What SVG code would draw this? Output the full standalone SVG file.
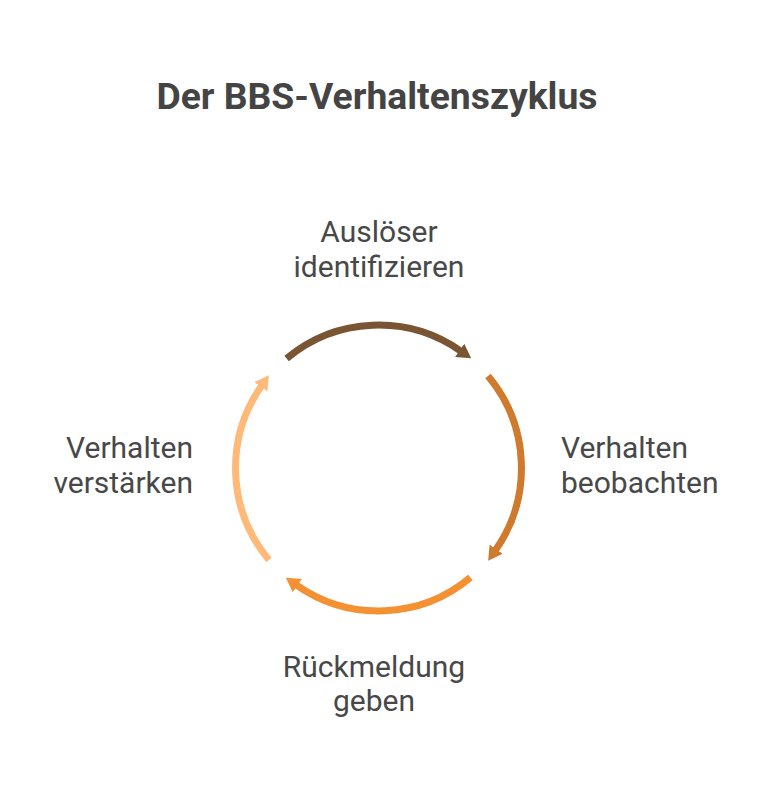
<svg xmlns="http://www.w3.org/2000/svg" width="774" height="792" viewBox="0 0 774 792">
<style>
.title{font-family:Roboto,"Liberation Sans",sans-serif;font-weight:700;font-size:37.3px;fill:#444444}
.lbl{font-family:Roboto,"Liberation Sans",sans-serif;font-size:30px;fill:#484848}
.arc{fill:none;stroke-width:7}
</style>
<defs>
<marker id="ah1" markerUnits="userSpaceOnUse" markerWidth="20" markerHeight="20" viewBox="0 -10 20 20" refX="1" refY="0" orient="auto"><path d="M0,-8 L14,0 L0,8 z" fill="#7a5533"/></marker>
<marker id="ah2" markerUnits="userSpaceOnUse" markerWidth="20" markerHeight="20" viewBox="0 -10 20 20" refX="1" refY="0" orient="auto"><path d="M0,-8 L14,0 L0,8 z" fill="#cf7a2d"/></marker>
<marker id="ah3" markerUnits="userSpaceOnUse" markerWidth="20" markerHeight="20" viewBox="0 -10 20 20" refX="1" refY="0" orient="auto"><path d="M0,-8 L14,0 L0,8 z" fill="#f39133"/></marker>
<marker id="ah4" markerUnits="userSpaceOnUse" markerWidth="20" markerHeight="20" viewBox="0 -10 20 20" refX="1" refY="0" orient="auto"><path d="M0,-8 L14,0 L0,8 z" fill="#ffba7a"/></marker>
</defs>
<rect width="774" height="792" fill="#ffffff"/>
<text class="title" x="377" y="109" text-anchor="middle">Der BBS-Verhaltenszyklus</text>
<g id="connectors">
<path class="arc" stroke="#7a5533" d="M286.6,358.5 A143,143 0 0 1 460.5,350.9" marker-end="url(#ah1)"/>
<path class="arc" stroke="#cf7a2d" d="M488.0,376.1 A143,143 0 0 1 495.6,550.0" marker-end="url(#ah2)"/>
<path class="arc" stroke="#f39133" d="M470.4,577.5 A143,143 0 0 1 296.5,585.1" marker-end="url(#ah3)"/>
<path class="arc" stroke="#ffba7a" d="M269.0,559.9 A143,143 0 0 1 261.4,386.0" marker-end="url(#ah4)"/>
</g>
<g id="node-ausloeser">
<text class="lbl" x="379" y="242" text-anchor="middle">Auslöser</text>
<text class="lbl" x="379" y="277" text-anchor="middle">identifizieren</text>
</g>
<g id="node-beobachten">
<text class="lbl" x="561" y="458">Verhalten</text>
<text class="lbl" x="561" y="493">beobachten</text>
</g>
<g id="node-rueckmeldung">
<text class="lbl" x="374" y="677" text-anchor="middle">Rückmeldung</text>
<text class="lbl" x="374" y="711" text-anchor="middle">geben</text>
</g>
<g id="node-verstaerken">
<text class="lbl" x="193" y="458" text-anchor="end">Verhalten</text>
<text class="lbl" x="193" y="493" text-anchor="end">verstärken</text>
</g>
</svg>
